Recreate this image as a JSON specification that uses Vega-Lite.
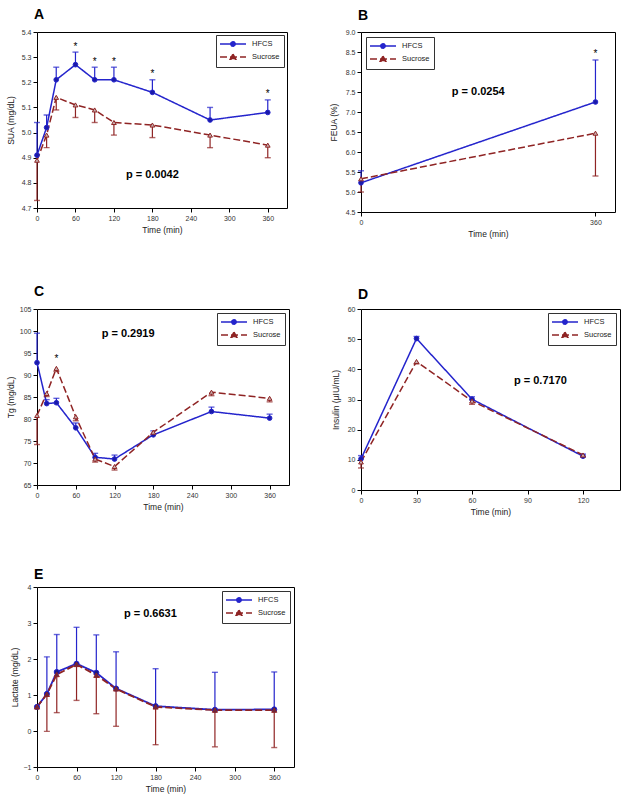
{
  "$schema": "https://vega.github.io/schema/vega-lite/v6.json",
  "background": "white",
  "padding": {"left": 5, "top": 7, "right": 5, "bottom": 5},
  "config": {
    "font": "Liberation Sans",
    "view": {"stroke": "#000", "strokeWidth": 1},
    "axis": {"domain": false, "grid": false, "tickSize": 4, "tickColor": "#000", "tickWidth": 1, "labelFontSize": 7, "labelColor": "#333", "labelPadding": 2, "titleFontSize": 8.5, "titleFontWeight": "normal", "titleColor": "#222", "titlePadding": 4, "labelFlush": false, "labelOverlap": false},
    "axisY": {"titleBaseline": "middle"},
    "title": {"fontSize": 14, "fontWeight": "bold", "anchor": "start", "frame": "group", "baseline": "alphabetic", "color": "#000"},
    "legend": {"padding": 4, "rowPadding": 1, "labelFontSize": 7.5, "labelColor": "#222", "strokeColor": "#333", "fillColor": "#fff", "symbolSize": 64, "symbolStrokeWidth": 1.5, "symbolOpacity": 1, "labelOffset": 22, "offset": 3}
  },
  "datasets": {
    "A": [
      {"t": 0, "g": "HFCS", "v": 4.91, "e": 5.04}, {"t": 15, "g": "HFCS", "v": 5.02, "e": 5.07}, {"t": 30, "g": "HFCS", "v": 5.21, "e": 5.26}, {"t": 60, "g": "HFCS", "v": 5.27, "e": 5.32}, {"t": 90, "g": "HFCS", "v": 5.21, "e": 5.26}, {"t": 120, "g": "HFCS", "v": 5.21, "e": 5.26}, {"t": 180, "g": "HFCS", "v": 5.16, "e": 5.21}, {"t": 270, "g": "HFCS", "v": 5.05, "e": 5.1}, {"t": 360, "g": "HFCS", "v": 5.08, "e": 5.13},
      {"t": 0, "g": "Sucrose", "v": 4.89, "e": 4.73}, {"t": 15, "g": "Sucrose", "v": 4.99, "e": 4.94}, {"t": 30, "g": "Sucrose", "v": 5.14, "e": 5.09}, {"t": 60, "g": "Sucrose", "v": 5.11, "e": 5.06}, {"t": 90, "g": "Sucrose", "v": 5.09, "e": 5.04}, {"t": 120, "g": "Sucrose", "v": 5.04, "e": 4.99}, {"t": 180, "g": "Sucrose", "v": 5.03, "e": 4.98}, {"t": 270, "g": "Sucrose", "v": 4.99, "e": 4.94}, {"t": 360, "g": "Sucrose", "v": 4.95, "e": 4.9}
    ],
    "Astar": [{"t": 60, "s": 5.35}, {"t": 90, "s": 5.29}, {"t": 120, "s": 5.29}, {"t": 180, "s": 5.24}, {"t": 360, "s": 5.16}],
    "Ap": [{"t": 180, "s": 4.83, "label": "p = 0.0042"}],
    "B": [
      {"t": 0, "g": "HFCS", "v": 5.23, "e": 5.53}, {"t": 360, "g": "HFCS", "v": 7.25, "e": 8.3},
      {"t": 0, "g": "Sucrose", "v": 5.33, "e": 5.0}, {"t": 360, "g": "Sucrose", "v": 6.47, "e": 5.4}
    ],
    "Bstar": [{"t": 360, "s": 8.5}],
    "Bp": [{"t": 180, "s": 7.5, "label": "p = 0.0254"}],
    "C": [
      {"t": 0, "g": "HFCS", "v": 92.8, "e": 99.5}, {"t": 15, "g": "HFCS", "v": 83.5, "e": 84.4}, {"t": 30, "g": "HFCS", "v": 83.7, "e": 84.7}, {"t": 60, "g": "HFCS", "v": 78.0, "e": 79.1}, {"t": 90, "g": "HFCS", "v": 71.3, "e": 72.2}, {"t": 120, "g": "HFCS", "v": 70.9, "e": 71.8}, {"t": 180, "g": "HFCS", "v": 76.4, "e": 77.3}, {"t": 270, "g": "HFCS", "v": 81.7, "e": 82.7}, {"t": 360, "g": "HFCS", "v": 80.2, "e": 81.1},
      {"t": 0, "g": "Sucrose", "v": 80.8, "e": 74.2}, {"t": 15, "g": "Sucrose", "v": 85.8, "e": 85.1}, {"t": 30, "g": "Sucrose", "v": 91.5, "e": 90.8}, {"t": 60, "g": "Sucrose", "v": 80.5, "e": 79.6}, {"t": 90, "g": "Sucrose", "v": 70.9, "e": 70.2}, {"t": 120, "g": "Sucrose", "v": 69.2, "e": 68.4}, {"t": 180, "g": "Sucrose", "v": 77.0, "e": 76.5}, {"t": 270, "g": "Sucrose", "v": 86.1, "e": 85.3}, {"t": 360, "g": "Sucrose", "v": 84.7, "e": 83.9}
    ],
    "Cstar": [{"t": 30, "s": 94.0}],
    "Cp": [{"t": 141, "s": 99.3, "label": "p = 0.2919"}],
    "D": [
      {"t": 0, "g": "HFCS", "v": 10.3, "e": 11.4}, {"t": 30, "g": "HFCS", "v": 50.2, "e": 50.9}, {"t": 60, "g": "HFCS", "v": 30.1, "e": 30.9}, {"t": 120, "g": "HFCS", "v": 11.2, "e": 11.9},
      {"t": 0, "g": "Sucrose", "v": 9.3, "e": 7.3}, {"t": 30, "g": "Sucrose", "v": 42.6, "e": 41.8}, {"t": 60, "g": "Sucrose", "v": 29.5, "e": 28.4}, {"t": 120, "g": "Sucrose", "v": 11.6, "e": 10.9}
    ],
    "Dp": [{"t": 97, "s": 36, "label": "p = 0.7170"}],
    "E": [
      {"t": 0, "g": "HFCS", "v": 0.67, "e": null}, {"t": 15, "g": "HFCS", "v": 1.03, "e": 2.06}, {"t": 30, "g": "HFCS", "v": 1.64, "e": 2.68}, {"t": 60, "g": "HFCS", "v": 1.87, "e": 2.88}, {"t": 90, "g": "HFCS", "v": 1.62, "e": 2.67}, {"t": 120, "g": "HFCS", "v": 1.18, "e": 2.2}, {"t": 180, "g": "HFCS", "v": 0.69, "e": 1.73}, {"t": 270, "g": "HFCS", "v": 0.59, "e": 1.63}, {"t": 360, "g": "HFCS", "v": 0.6, "e": 1.64},
      {"t": 0, "g": "Sucrose", "v": 0.67, "e": null}, {"t": 15, "g": "Sucrose", "v": 1.02, "e": -0.01}, {"t": 30, "g": "Sucrose", "v": 1.57, "e": 0.51}, {"t": 60, "g": "Sucrose", "v": 1.85, "e": 0.85}, {"t": 90, "g": "Sucrose", "v": 1.55, "e": 0.48}, {"t": 120, "g": "Sucrose", "v": 1.17, "e": 0.13}, {"t": 180, "g": "Sucrose", "v": 0.67, "e": -0.38}, {"t": 270, "g": "Sucrose", "v": 0.58, "e": -0.44}, {"t": 360, "g": "Sucrose", "v": 0.58, "e": -0.46}
    ],
    "Ep": [{"t": 172, "s": 3.26, "label": "p = 0.6631"}]
  },
  "columns": 2,
  "spacing": {"row": 97, "column": 67},
  "bounds": "flush",
  "resolve": {"scale": {"color": "independent", "shape": "independent", "strokeDash": "independent"}},
  "concat": [
    {
      "width": 250, "height": 176,
      "title": {"text": "A", "offset": 6.5, "dx": -3},
      "data": {"name": "A"},
      "encoding": {
        "x": {"field": "t", "type": "quantitative", "title": "Time (min)", "scale": {"domain": [0, 390], "nice": false, "zero": false}, "axis": {"values": [0, 60, 120, 180, 240, 300, 360], "tickCount": 50, "format": "d"}},
        "color": {"field": "g", "type": "nominal", "scale": {"domain": ["HFCS", "Sucrose"], "range": ["#2424cc", "#8f2424"]}, "legend": {"title": null, "orient": "top-right", "offset": 3}}
      },
      "layer": [
        {"transform": [{"filter": "datum.e != null"}], "mark": {"type": "rule", "strokeWidth": 1.2},
         "encoding": {"y": {"field": "v", "type": "quantitative", "title": "SUA (mg/dL)", "scale": {"domain": [4.7, 5.4], "nice": false, "zero": false}, "axis": {"values": [4.7, 4.8, 4.9, 5.0, 5.1, 5.2, 5.3, 5.4], "tickCount": 50, "format": ".1f", "titleX": -27, "labelOverlap": false}}, "y2": {"field": "e"}}},
        {"transform": [{"filter": "datum.e != null"}], "mark": {"type": "tick", "orient": "horizontal", "size": 6, "thickness": 1.4},
         "encoding": {"y": {"field": "e", "type": "quantitative", "title": "SUA (mg/dL)"}}},
        {"mark": {"type": "line", "strokeWidth": 1.5},
         "encoding": {"y": {"field": "v", "type": "quantitative", "title": "SUA (mg/dL)"}, "strokeDash": {"field": "g", "type": "nominal", "scale": {"domain": ["HFCS", "Sucrose"], "range": [[1, 0], [7, 3]]}, "legend": {"title": null, "orient": "top-right", "offset": 3}}}},
        {"mark": {"type": "point", "filled": false, "size": 22, "opacity": 1, "strokeWidth": 1},
         "encoding": {"y": {"field": "v", "type": "quantitative", "title": "SUA (mg/dL)"}, "shape": {"condition": {"test": "datum.g === 'HFCS'", "value": "circle"}, "value": "triangle-up"}, "fill": {"condition": {"test": "datum.g === 'HFCS'", "value": "#1a1aa8"}, "value": "#c8b4b4"}}},
        {"transform": [{"filter": "false"}], "mark": {"type": "point", "filled": false, "strokeWidth": 1.5},
         "encoding": {"y": {"field": "v", "type": "quantitative", "title": "SUA (mg/dL)"},
           "shape": {"field": "g", "type": "nominal", "scale": {"domain": ["HFCS", "Sucrose"], "range": ["M-1.25,0L5.25,0M2.55,0A0.55,0.55,0,1,1,1.45,0A0.55,0.55,0,1,1,2.55,0ZM2.2,0A0.2,0.2,0,1,1,1.8,0A0.2,0.2,0,1,1,2.2,0Z", "M-1.25,0L5.25,0M2,-0.75L2.7,0.55L1.3,0.55Z"]}, "legend": {"title": null, "orient": "top-right", "offset": 3}}}},
        {"data": {"name": "Astar"}, "mark": {"type": "text", "text": "*", "fontSize": 10, "baseline": "alphabetic", "dy": 5},
         "encoding": {"y": {"field": "s", "type": "quantitative", "title": "SUA (mg/dL)"}, "color": {"value": "#000"}}},
        {"data": {"name": "Ap"}, "mark": {"type": "text", "fontSize": 11, "fontWeight": "bold", "baseline": "middle"},
         "encoding": {"y": {"field": "s", "type": "quantitative", "title": "SUA (mg/dL)"}, "text": {"field": "label"}, "color": {"value": "#000"}}}
      ]
    },
    {
      "width": 254, "height": 180,
      "title": {"text": "B", "offset": 5.5, "dx": -3},
      "data": {"name": "B"},
      "encoding": {
        "x": {"field": "t", "type": "quantitative", "title": "Time (min)", "scale": {"domain": [0, 390], "nice": false, "zero": false}, "axis": {"values": [0, 360], "tickCount": 50, "format": "d"}},
        "color": {"field": "g", "type": "nominal", "scale": {"domain": ["HFCS", "Sucrose"], "range": ["#2424cc", "#8f2424"]}, "legend": {"title": null, "orient": "top-left", "offset": 5}}
      },
      "layer": [
        {"mark": {"type": "rule", "strokeWidth": 1.2},
         "encoding": {"y": {"field": "v", "type": "quantitative", "title": "FEUA (%)", "scale": {"domain": [4.5, 9.0], "nice": false, "zero": false}, "axis": {"values": [4.5, 5.0, 5.5, 6.0, 6.5, 7.0, 7.5, 8.0, 8.5, 9.0], "tickCount": 50, "format": ".1f", "titleX": -28, "labelOverlap": false}}, "y2": {"field": "e"}}},
        {"mark": {"type": "tick", "orient": "horizontal", "size": 6, "thickness": 1.4},
         "encoding": {"y": {"field": "e", "type": "quantitative", "title": "FEUA (%)"}}},
        {"mark": {"type": "line", "strokeWidth": 1.5},
         "encoding": {"y": {"field": "v", "type": "quantitative", "title": "FEUA (%)"}, "strokeDash": {"field": "g", "type": "nominal", "scale": {"domain": ["HFCS", "Sucrose"], "range": [[1, 0], [7, 3]]}, "legend": {"title": null, "orient": "top-left", "offset": 5}}}},
        {"mark": {"type": "point", "filled": false, "size": 22, "opacity": 1, "strokeWidth": 1},
         "encoding": {"y": {"field": "v", "type": "quantitative", "title": "FEUA (%)"}, "shape": {"condition": {"test": "datum.g === 'HFCS'", "value": "circle"}, "value": "triangle-up"}, "fill": {"condition": {"test": "datum.g === 'HFCS'", "value": "#1a1aa8"}, "value": "#c8b4b4"}}},
        {"transform": [{"filter": "false"}], "mark": {"type": "point", "filled": false, "strokeWidth": 1.5},
         "encoding": {"y": {"field": "v", "type": "quantitative", "title": "FEUA (%)"},
           "shape": {"field": "g", "type": "nominal", "scale": {"domain": ["HFCS", "Sucrose"], "range": ["M-1.25,0L5.25,0M2.55,0A0.55,0.55,0,1,1,1.45,0A0.55,0.55,0,1,1,2.55,0ZM2.2,0A0.2,0.2,0,1,1,1.8,0A0.2,0.2,0,1,1,2.2,0Z", "M-1.25,0L5.25,0M2,-0.75L2.7,0.55L1.3,0.55Z"]}, "legend": {"title": null, "orient": "top-left", "offset": 5}}}},
        {"data": {"name": "Bstar"}, "mark": {"type": "text", "text": "*", "fontSize": 10, "baseline": "alphabetic", "dy": 5},
         "encoding": {"y": {"field": "s", "type": "quantitative", "title": "FEUA (%)"}, "color": {"value": "#000"}}},
        {"data": {"name": "Bp"}, "mark": {"type": "text", "fontSize": 11, "fontWeight": "bold", "baseline": "middle"},
         "encoding": {"y": {"field": "s", "type": "quantitative", "title": "FEUA (%)"}, "text": {"field": "label"}, "color": {"value": "#000"}}}
      ]
    },
    {
      "width": 252, "height": 176,
      "title": {"text": "C", "offset": 6.5, "dx": -3},
      "data": {"name": "C"},
      "encoding": {
        "x": {"field": "t", "type": "quantitative", "title": "Time (min)", "scale": {"domain": [0, 390], "nice": false, "zero": false}, "axis": {"values": [0, 60, 120, 180, 240, 300, 360], "tickCount": 50, "format": "d"}},
        "color": {"field": "g", "type": "nominal", "scale": {"domain": ["HFCS", "Sucrose"], "range": ["#2424cc", "#8f2424"]}, "legend": {"title": null, "orient": "top-right", "offset": 4}}
      },
      "layer": [
        {"mark": {"type": "rule", "strokeWidth": 1.2},
         "encoding": {"y": {"field": "v", "type": "quantitative", "title": "Tg (mg/dL)", "scale": {"domain": [65, 105], "nice": false, "zero": false}, "axis": {"values": [65, 70, 75, 80, 85, 90, 95, 100, 105], "tickCount": 50, "format": "d", "titleX": -27, "labelOverlap": false}}, "y2": {"field": "e"}}},
        {"mark": {"type": "tick", "orient": "horizontal", "size": 6, "thickness": 1.4},
         "encoding": {"y": {"field": "e", "type": "quantitative", "title": "Tg (mg/dL)"}}},
        {"mark": {"type": "line", "strokeWidth": 1.5},
         "encoding": {"y": {"field": "v", "type": "quantitative", "title": "Tg (mg/dL)"}, "strokeDash": {"field": "g", "type": "nominal", "scale": {"domain": ["HFCS", "Sucrose"], "range": [[1, 0], [7, 3]]}, "legend": {"title": null, "orient": "top-right", "offset": 4}}}},
        {"mark": {"type": "point", "filled": false, "size": 22, "opacity": 1, "strokeWidth": 1},
         "encoding": {"y": {"field": "v", "type": "quantitative", "title": "Tg (mg/dL)"}, "shape": {"condition": {"test": "datum.g === 'HFCS'", "value": "circle"}, "value": "triangle-up"}, "fill": {"condition": {"test": "datum.g === 'HFCS'", "value": "#1a1aa8"}, "value": "#c8b4b4"}}},
        {"transform": [{"filter": "false"}], "mark": {"type": "point", "filled": false, "strokeWidth": 1.5},
         "encoding": {"y": {"field": "v", "type": "quantitative", "title": "Tg (mg/dL)"},
           "shape": {"field": "g", "type": "nominal", "scale": {"domain": ["HFCS", "Sucrose"], "range": ["M-1.25,0L5.25,0M2.55,0A0.55,0.55,0,1,1,1.45,0A0.55,0.55,0,1,1,2.55,0ZM2.2,0A0.2,0.2,0,1,1,1.8,0A0.2,0.2,0,1,1,2.2,0Z", "M-1.25,0L5.25,0M2,-0.75L2.7,0.55L1.3,0.55Z"]}, "legend": {"title": null, "orient": "top-right", "offset": 4}}}},
        {"data": {"name": "Cstar"}, "mark": {"type": "text", "text": "*", "fontSize": 10, "baseline": "alphabetic", "dy": 5},
         "encoding": {"y": {"field": "s", "type": "quantitative", "title": "Tg (mg/dL)"}, "color": {"value": "#000"}}},
        {"data": {"name": "Cp"}, "mark": {"type": "text", "fontSize": 11, "fontWeight": "bold", "baseline": "middle"},
         "encoding": {"y": {"field": "s", "type": "quantitative", "title": "Tg (mg/dL)"}, "text": {"field": "label"}, "color": {"value": "#000"}}}
      ]
    },
    {
      "width": 259, "height": 181,
      "title": {"text": "D", "offset": 3.5, "dx": -3},
      "data": {"name": "D"},
      "encoding": {
        "x": {"field": "t", "type": "quantitative", "title": "Time (min)", "scale": {"domain": [0, 140], "nice": false, "zero": false}, "axis": {"values": [0, 30, 60, 90, 120], "tickCount": 50, "format": "d"}},
        "color": {"field": "g", "type": "nominal", "scale": {"domain": ["HFCS", "Sucrose"], "range": ["#2424cc", "#8f2424"]}, "legend": {"title": null, "orient": "top-right", "offset": 4}}
      },
      "layer": [
        {"mark": {"type": "rule", "strokeWidth": 1.2},
         "encoding": {"y": {"field": "v", "type": "quantitative", "title": "Insulin (µIU/mL)", "scale": {"domain": [0, 60], "nice": false, "zero": false}, "axis": {"values": [0, 10, 20, 30, 40, 50, 60], "tickCount": 50, "format": "d", "titleX": -26, "labelOverlap": false}}, "y2": {"field": "e"}}},
        {"mark": {"type": "tick", "orient": "horizontal", "size": 6, "thickness": 1.4},
         "encoding": {"y": {"field": "e", "type": "quantitative", "title": "Insulin (µIU/mL)"}}},
        {"mark": {"type": "line", "strokeWidth": 1.5},
         "encoding": {"y": {"field": "v", "type": "quantitative", "title": "Insulin (µIU/mL)"}, "strokeDash": {"field": "g", "type": "nominal", "scale": {"domain": ["HFCS", "Sucrose"], "range": [[1, 0], [7, 3]]}, "legend": {"title": null, "orient": "top-right", "offset": 4}}}},
        {"mark": {"type": "point", "filled": false, "size": 22, "opacity": 1, "strokeWidth": 1},
         "encoding": {"y": {"field": "v", "type": "quantitative", "title": "Insulin (µIU/mL)"}, "shape": {"condition": {"test": "datum.g === 'HFCS'", "value": "circle"}, "value": "triangle-up"}, "fill": {"condition": {"test": "datum.g === 'HFCS'", "value": "#1a1aa8"}, "value": "#c8b4b4"}}},
        {"transform": [{"filter": "false"}], "mark": {"type": "point", "filled": false, "strokeWidth": 1.5},
         "encoding": {"y": {"field": "v", "type": "quantitative", "title": "Insulin (µIU/mL)"},
           "shape": {"field": "g", "type": "nominal", "scale": {"domain": ["HFCS", "Sucrose"], "range": ["M-1.25,0L5.25,0M2.55,0A0.55,0.55,0,1,1,1.45,0A0.55,0.55,0,1,1,2.55,0ZM2.2,0A0.2,0.2,0,1,1,1.8,0A0.2,0.2,0,1,1,2.2,0Z", "M-1.25,0L5.25,0M2,-0.75L2.7,0.55L1.3,0.55Z"]}, "legend": {"title": null, "orient": "top-right", "offset": 4}}}},
        {"data": {"name": "Dp"}, "mark": {"type": "text", "fontSize": 11, "fontWeight": "bold", "baseline": "middle"},
         "encoding": {"y": {"field": "s", "type": "quantitative", "title": "Insulin (µIU/mL)"}, "text": {"field": "label"}, "color": {"value": "#000"}}}
      ]
    },
    {
      "width": 257, "height": 180,
      "title": {"text": "E", "offset": 1.5, "dx": -3},
      "data": {"name": "E"},
      "encoding": {
        "x": {"field": "t", "type": "quantitative", "title": "Time (min)", "scale": {"domain": [0, 390], "nice": false, "zero": false}, "axis": {"values": [0, 60, 120, 180, 240, 300, 360], "tickCount": 50, "format": "d"}},
        "color": {"field": "g", "type": "nominal", "scale": {"domain": ["HFCS", "Sucrose"], "range": ["#2424cc", "#8f2424"]}, "legend": {"title": null, "orient": "top-right", "offset": 4}}
      },
      "layer": [
        {"transform": [{"filter": "datum.e != null"}], "mark": {"type": "rule", "strokeWidth": 1.2},
         "encoding": {"y": {"field": "v", "type": "quantitative", "title": "Lactate (mg/dL)", "scale": {"domain": [-1, 4], "nice": false, "zero": false}, "axis": {"values": [-1, 0, 1, 2, 3, 4], "tickCount": 50, "format": "d", "titleX": -23, "labelOverlap": false}}, "y2": {"field": "e"}}},
        {"transform": [{"filter": "datum.e != null"}], "mark": {"type": "tick", "orient": "horizontal", "size": 6, "thickness": 1.4},
         "encoding": {"y": {"field": "e", "type": "quantitative", "title": "Lactate (mg/dL)"}}},
        {"mark": {"type": "line", "strokeWidth": 1.8},
         "encoding": {"y": {"field": "v", "type": "quantitative", "title": "Lactate (mg/dL)"}, "strokeDash": {"field": "g", "type": "nominal", "scale": {"domain": ["HFCS", "Sucrose"], "range": [[1, 0], [7, 3]]}, "legend": {"title": null, "orient": "top-right", "offset": 4}}}},
        {"mark": {"type": "point", "filled": false, "size": 26, "opacity": 1, "strokeWidth": 1},
         "encoding": {"y": {"field": "v", "type": "quantitative", "title": "Lactate (mg/dL)"}, "shape": {"condition": {"test": "datum.g === 'HFCS'", "value": "circle"}, "value": "triangle-up"}, "fill": {"condition": {"test": "datum.g === 'HFCS'", "value": "#1a1a8a"}, "value": "#6a2a40"}}},
        {"transform": [{"filter": "false"}], "mark": {"type": "point", "filled": false, "strokeWidth": 1.5},
         "encoding": {"y": {"field": "v", "type": "quantitative", "title": "Lactate (mg/dL)"},
           "shape": {"field": "g", "type": "nominal", "scale": {"domain": ["HFCS", "Sucrose"], "range": ["M-1.25,0L5.25,0M2.55,0A0.55,0.55,0,1,1,1.45,0A0.55,0.55,0,1,1,2.55,0ZM2.2,0A0.2,0.2,0,1,1,1.8,0A0.2,0.2,0,1,1,2.2,0Z", "M-1.25,0L5.25,0M2,-0.75L2.7,0.55L1.3,0.55Z"]}, "legend": {"title": null, "orient": "top-right", "offset": 4}}}},
        {"data": {"name": "Ep"}, "mark": {"type": "text", "fontSize": 11, "fontWeight": "bold", "baseline": "middle"},
         "encoding": {"y": {"field": "s", "type": "quantitative", "title": "Lactate (mg/dL)"}, "text": {"field": "label"}, "color": {"value": "#000"}}}
      ]
    }
  ]
}
